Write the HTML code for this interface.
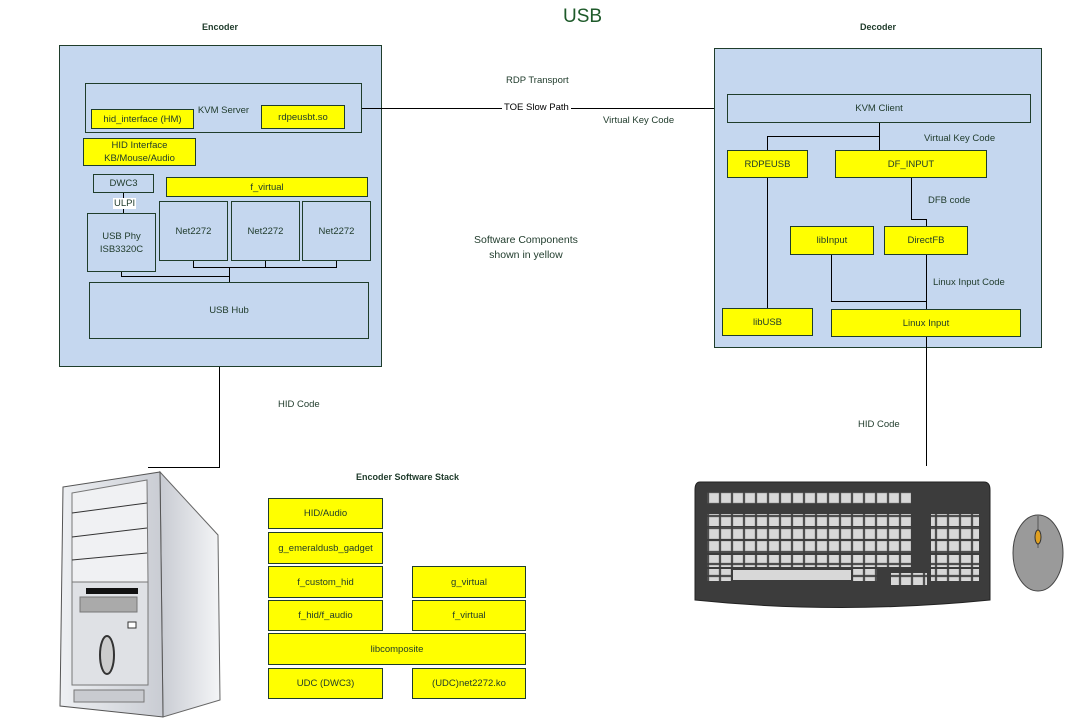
<!DOCTYPE html>
<html><head><meta charset="utf-8"><style>
body{margin:0;width:1067px;height:725px;background:#fff;position:relative;overflow:hidden;font-family:"Liberation Sans",sans-serif;color:#1e3a2a}
.b{position:absolute;box-sizing:border-box;border:1px solid #1f3d2b;display:flex;align-items:center;justify-content:center;text-align:center;font-size:9.5px;line-height:13px}
.y{background:#ffff00}
.bl{background:#c5d7ef}
.t{position:absolute;font-size:9.5px;white-space:nowrap}
.l{position:absolute;background:#000}
</style></head><body>
<div class="t" style="left:563px;top:6px;font-size:19px;color:#1e5a2a">USB</div>
<div class="t" style="left:202px;top:22px;font-weight:bold;font-size:9px">Encoder</div>
<div class="t" style="left:860px;top:22px;font-weight:bold;font-size:9px">Decoder</div>
<div class="t" style="left:356px;top:472px;font-weight:bold;font-size:9px">Encoder Software Stack</div>

<!-- Encoder -->
<div class="b bl" style="left:59px;top:45px;width:323px;height:322px"></div>
<div class="b" style="left:85px;top:83px;width:277px;height:50px;align-items:flex-start;padding-top:20px">KVM Server</div>
<div class="b y" style="left:91px;top:109px;width:103px;height:20px">hid_interface (HM)</div>
<div class="b y" style="left:261px;top:105px;width:84px;height:24px">rdpeusbt.so</div>
<div class="b y" style="left:83px;top:138px;width:113px;height:28px">HID Interface<br>KB/Mouse/Audio</div>
<div class="b" style="left:93px;top:174px;width:61px;height:19px">DWC3</div>
<div class="l" style="left:123px;top:193px;width:1px;height:20px"></div>
<div class="t" style="left:113px;top:198px;background:#fff;padding:0 1px">ULPI</div>
<div class="b y" style="left:166px;top:177px;width:202px;height:20px">f_virtual</div>
<div class="b" style="left:87px;top:213px;width:69px;height:59px">USB Phy<br>ISB3320C</div>
<div class="b" style="left:159px;top:201px;width:69px;height:60px">Net2272</div>
<div class="b" style="left:231px;top:201px;width:69px;height:60px">Net2272</div>
<div class="b" style="left:302px;top:201px;width:69px;height:60px">Net2272</div>
<div class="l" style="left:193px;top:261px;width:1px;height:6px"></div>
<div class="l" style="left:265px;top:261px;width:1px;height:6px"></div>
<div class="l" style="left:336px;top:261px;width:1px;height:6px"></div>
<div class="l" style="left:193px;top:267px;width:144px;height:1px"></div>
<div class="l" style="left:229px;top:267px;width:1px;height:15px"></div>
<div class="l" style="left:121px;top:272px;width:1px;height:4px"></div>
<div class="l" style="left:121px;top:276px;width:108px;height:1px"></div>
<div class="b" style="left:89px;top:282px;width:280px;height:57px">USB Hub</div>

<!-- transport -->
<div class="l" style="left:362px;top:108px;width:365px;height:1px"></div>
<div class="t" style="left:502px;top:102px;background:#fff;color:#000;padding:0 2px">TOE Slow Path</div>
<div class="t" style="left:506px;top:75px">RDP Transport</div>
<div class="t" style="left:603px;top:115px">Virtual Key Code</div>
<div class="t" style="left:474px;top:233px;font-size:10.5px;text-align:center;line-height:15px">Software Components<br>shown in yellow</div>

<!-- Decoder -->
<div class="b bl" style="left:714px;top:48px;width:328px;height:300px"></div>
<div class="b" style="left:727px;top:94px;width:304px;height:29px">KVM Client</div>
<div class="l" style="left:879px;top:123px;width:1px;height:27px"></div>
<div class="l" style="left:767px;top:136px;width:113px;height:1px"></div>
<div class="l" style="left:767px;top:136px;width:1px;height:14px"></div>
<div class="t" style="left:924px;top:133px">Virtual Key Code</div>
<div class="b y" style="left:727px;top:150px;width:81px;height:28px">RDPEUSB</div>
<div class="b y" style="left:835px;top:150px;width:152px;height:28px">DF_INPUT</div>
<div class="l" style="left:767px;top:178px;width:1px;height:131px"></div>
<div class="l" style="left:911px;top:178px;width:1px;height:41px"></div>
<div class="l" style="left:911px;top:219px;width:16px;height:1px"></div>
<div class="l" style="left:926px;top:219px;width:1px;height:7px"></div>
<div class="t" style="left:928px;top:195px">DFB code</div>
<div class="b y" style="left:790px;top:226px;width:84px;height:29px">libInput</div>
<div class="b y" style="left:884px;top:226px;width:84px;height:29px">DirectFB</div>
<div class="l" style="left:831px;top:255px;width:1px;height:46px"></div>
<div class="l" style="left:831px;top:301px;width:96px;height:1px"></div>
<div class="l" style="left:926px;top:255px;width:1px;height:55px"></div>
<div class="t" style="left:933px;top:277px">Linux Input Code</div>
<div class="b y" style="left:722px;top:308px;width:91px;height:28px">libUSB</div>
<div class="b y" style="left:831px;top:309px;width:190px;height:28px">Linux Input</div>
<div class="l" style="left:926px;top:337px;width:1px;height:129px"></div>
<div class="t" style="left:858px;top:419px">HID Code</div>

<!-- Encoder down -->
<div class="l" style="left:219px;top:367px;width:1px;height:101px"></div>
<div class="l" style="left:148px;top:467px;width:72px;height:1px"></div>
<div class="t" style="left:278px;top:399px">HID Code</div>

<!-- stack -->
<div class="b y" style="left:268px;top:498px;width:115px;height:31px">HID/Audio</div>
<div class="b y" style="left:268px;top:532px;width:115px;height:32px">g_emeraldusb_gadget</div>
<div class="b y" style="left:268px;top:566px;width:115px;height:32px">f_custom_hid</div>
<div class="b y" style="left:412px;top:566px;width:114px;height:32px">g_virtual</div>
<div class="b y" style="left:268px;top:600px;width:115px;height:31px">f_hid/f_audio</div>
<div class="b y" style="left:412px;top:600px;width:114px;height:31px">f_virtual</div>
<div class="b y" style="left:268px;top:633px;width:258px;height:32px">libcomposite</div>
<div class="b y" style="left:268px;top:668px;width:115px;height:31px">UDC (DWC3)</div>
<div class="b y" style="left:412px;top:668px;width:114px;height:31px">(UDC)net2272.ko</div>

<!-- computer -->
<svg style="position:absolute;left:0;top:0" width="1067" height="725">
<defs>
<linearGradient id="g1" x1="0" x2="1"><stop offset="0" stop-color="#c8cbd2"/><stop offset="1" stop-color="#f4f5f7"/></linearGradient>
<linearGradient id="g2" x1="0" x2="1"><stop offset="0" stop-color="#eef0f3"/><stop offset="1" stop-color="#c9ccd3"/></linearGradient>
<pattern id="k" width="12" height="12" patternUnits="userSpaceOnUse"><rect x="1" y="1" width="10" height="10" fill="#d8d8d8" stroke="#888" stroke-width="0.5"/></pattern>
</defs>
<polygon points="160,472 218,535 220,700 163,717" fill="url(#g1)" stroke="#666"/>
<polygon points="63,487 160,472 163,717 60,706" fill="url(#g2)" stroke="#555"/>
<polygon points="72,493 147,480 148,582 72,584" fill="#f0f1f3" stroke="#777"/>
<line x1="72" y1="513" x2="147" y2="503" stroke="#333"/>
<line x1="72" y1="537" x2="147" y2="528" stroke="#333"/>
<line x1="72" y1="560" x2="147" y2="553" stroke="#333"/>
<rect x="72" y="582" width="76" height="103" fill="#dfe1e5" stroke="#777"/>
<rect x="86" y="588" width="52" height="6" fill="#111"/>
<rect x="80" y="597" width="57" height="15" fill="#aaa" stroke="#777"/>
<rect x="128" y="622" width="8" height="6" fill="#fff" stroke="#333"/>
<ellipse cx="107" cy="655" rx="7" ry="19" fill="#ccc" stroke="#333" stroke-width="2"/>
<rect x="74" y="690" width="70" height="12" fill="#c9cbd0" stroke="#777"/>
<!-- keyboard -->
<path d="M700,482 H984 Q990,482 990,490 V600 Q840,615 695,600 V490 Q695,482 700,482 Z" fill="#3c3c3c" stroke="#222"/>
<rect x="707" y="492" width="204" height="12" fill="url(#k)"/>
<rect x="707" y="514" width="204" height="12" fill="url(#k)"/>
<rect x="707" y="527" width="204" height="12" fill="url(#k)"/>
<rect x="707" y="541" width="204" height="12" fill="url(#k)"/>
<rect x="707" y="555" width="204" height="12" fill="url(#k)"/>
<rect x="707" y="569" width="24" height="12" fill="url(#k)"/>
<rect x="733" y="570" width="118" height="10" fill="#d8d8d8"/>
<rect x="853" y="569" width="24" height="12" fill="url(#k)"/>
<rect x="891" y="573" width="36" height="12" fill="url(#k)"/>
<rect x="931" y="514" width="48" height="12" fill="url(#k)"/>
<rect x="931" y="527" width="48" height="12" fill="url(#k)"/>
<rect x="931" y="541" width="48" height="12" fill="url(#k)"/>
<rect x="931" y="555" width="48" height="12" fill="url(#k)"/>
<rect x="931" y="569" width="48" height="12" fill="url(#k)"/>
<!-- mouse -->
<ellipse cx="1038" cy="553" rx="25" ry="38" fill="#9a9a9a" stroke="#444"/>
<line x1="1038" y1="516" x2="1038" y2="548" stroke="#555"/>
<ellipse cx="1038" cy="537" rx="3" ry="7" fill="#e0a020" stroke="#333"/>
</svg>
</body></html>
